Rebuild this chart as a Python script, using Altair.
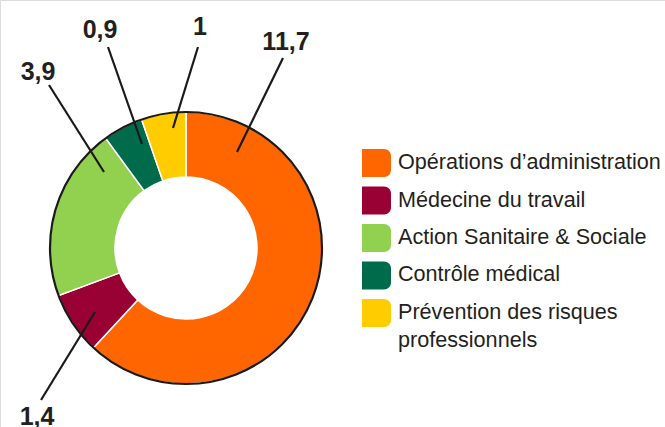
import altair as alt
import pandas as pd

categories = ["Opérations d’administration", "Médecine du travail",
              "Action Sanitaire & Sociale", "Contrôle médical",
              "Prévention des risques professionnels"]
values = [11.7, 1.4, 3.9, 0.9, 1.0]
value_labels = ["11,7", "1,4", "3,9", "0,9", "1"]
legend_line1 = ["Opérations d’administration", "Médecine du travail",
                "Action Sanitaire & Sociale", "Contrôle médical",
                "Prévention des risques"]
legend_line2 = ["", "", "", "", "professionnels"]
colors = ["#FF6600", "#990033", "#92D050", "#006B4A", "#FFCC00"]

# annotation layout (pixel positions of value labels and leader lines)
label_x = [286, 37, 38, 100, 200]
label_y = [42, 417, 72, 30, 27]
lead_x1 = [283, 41, 49, 108, 198]
lead_y1 = [58, 400, 85, 47, 47]
lead_x2 = [237, 95, 104, 142, 173]
lead_y2 = [152, 312, 172, 144, 128]

CX, CY = 186, 248
R_OUT, R_IN = 136, 71

df = pd.DataFrame({
    "cat": categories, "value": values, "idx": list(range(5)),
    "vlabel": value_labels, "l1": legend_line1, "l2": legend_line2,
    "lx": label_x, "ly": label_y,
    "x1": lead_x1, "y1": lead_y1, "x2": lead_x2, "y2": lead_y2,
})

color_scale = alt.Scale(domain=categories, range=colors)
base = alt.Chart(df)

donut = base.mark_arc(innerRadius=R_IN, outerRadius=R_OUT, stroke="white",
                      strokeWidth=1.5).encode(
    theta=alt.Theta("value:Q", stack=True),
    order=alt.Order("idx:Q", sort="ascending"),
    color=alt.Color("cat:N", scale=color_scale, legend=None),
    x=alt.value(CX), y=alt.value(CY),
)

ring = base.transform_filter("datum.idx == 0").mark_point(
    shape="circle", filled=False, stroke="#1a1a1a", strokeWidth=2.2,
    size=(2 * R_OUT) ** 2, opacity=1).encode(
    x=alt.value(CX), y=alt.value(CY))

leaders = base.mark_rule(color="#1a1a1a", strokeWidth=2.2).encode(
    x=alt.X("x1:Q", scale=None), y=alt.Y("y1:Q", scale=None),
    x2="x2:Q", y2="y2:Q")

vlabels = base.mark_text(font="Liberation Sans", fontWeight="bold",
                         fontSize=25, color="#231F20", baseline="middle",
                         align="center").encode(
    x=alt.X("lx:Q", scale=None), y=alt.Y("ly:Q", scale=None),
    text="vlabel:N")

legend_y = alt.Scale(domain=categories, range=[144.25, 331.75],
                     paddingInner=0.2533, paddingOuter=0.1267)

leg_rect = base.mark_rect(cornerRadiusTopRight=7,
                          cornerRadiusBottomRight=7).encode(
    x=alt.value(362), x2=alt.value(391),
    y=alt.Y("cat:N", scale=legend_y, axis=None),
    color=alt.Color("cat:N", scale=color_scale, legend=None))

leg_text1 = base.mark_text(font="Liberation Sans", fontSize=21.6,
                           color="#231F20", align="left",
                           baseline="middle").encode(
    x=alt.value(398), y=alt.Y("cat:N", scale=legend_y, axis=None),
    text="l1:N")

leg_text2 = base.transform_filter("datum.l2 != ''").mark_text(
    font="Liberation Sans", fontSize=21.6, color="#231F20", align="left",
    baseline="middle", dy=28).encode(
    x=alt.value(398), y=alt.Y("cat:N", scale=legend_y, axis=None),
    text="l2:N")

chart = alt.layer(donut, ring, leaders, vlabels, leg_rect, leg_text1,
                  leg_text2).properties(
    width=665, height=427, padding=0,
    autosize=alt.AutoSizeParams(type="none"),
).configure_view(stroke=None).configure(background="white")

chart.save("out.html", embed_options={"renderer": "svg", "actions": False})
